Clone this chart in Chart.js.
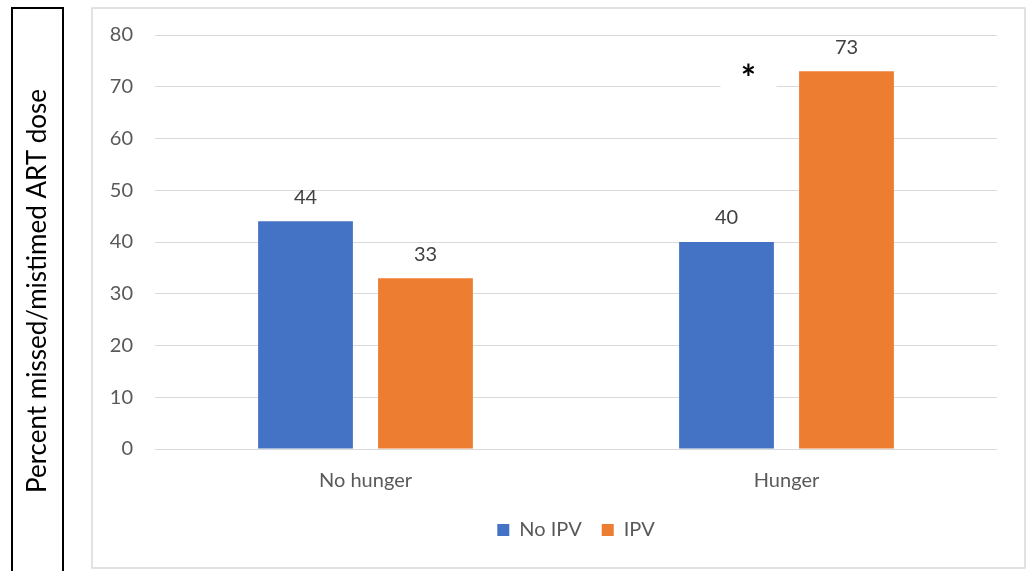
<!DOCTYPE html>
<html>
<head>
<meta charset="utf-8">
<script src="https://cdn.jsdelivr.net/npm/chart.js@4/dist/chart.umd.min.js"></script>
<style>
  html, body { margin: 0; padding: 0; background: #ffffff; }
  #wrap { width: 1029px; height: 571px; position: relative; }
</style>
</head>
<body>
<div id="wrap"><canvas id="c" width="1029" height="571"></canvas></div>
<script>
// Chart data
const categories = ['No hunger', 'Hunger'];
const seriesNames = ['No IPV', 'IPV'];
const noIpvValues = [44, 40];
const ipvValues = [33, 73];
const significanceMarks = ['', '*'];
const yTickMin = 0;
const yTickMax = 80;
const yTickStep = 10;
const yTitle = 'Percent missed/mistimed ART dose';

const FONT = "Lato, 'Open Sans', sans-serif";
const BLUE = '#4472C4';
const ORANGE = '#ED7D31';

// Frames: black box holding the axis title, light grey border around the chart
const framePlugin = {
  id: 'frames',
  beforeDraw(chart) {
    const ctx = chart.ctx;
    ctx.save();
    ctx.fillStyle = '#ffffff';
    ctx.fillRect(0, 0, chart.width, chart.height);
    ctx.strokeStyle = '#d9d9d9';
    ctx.lineWidth = 1.5;
    ctx.strokeRect(92, 8, 933, 560);
    ctx.strokeStyle = '#000000';
    ctx.lineWidth = 2;
    ctx.strokeRect(12, 8, 51, 580);
    ctx.restore();
  },
  afterDraw(chart) {
    // rotated y-axis title inside the black box
    const ctx = chart.ctx;
    ctx.save();
    ctx.translate(38, 291);
    ctx.rotate(-Math.PI / 2);
    ctx.font = '26px ' + FONT;
    ctx.fillStyle = '#000000';
    ctx.textAlign = 'center';
    ctx.textBaseline = 'middle';
    ctx.fillText(yTitle, 0, 0);
    ctx.restore();
  }
};

// Value labels above bars and significance marker
const labelPlugin = {
  id: 'valueLabels',
  afterDatasetsDraw(chart) {
    const ctx = chart.ctx;
    const yScale = chart.scales.y;
    ctx.save();
    ctx.font = '20px ' + FONT;
    ctx.fillStyle = '#404040';
    ctx.textAlign = 'center';
    ctx.textBaseline = 'middle';
    chart.data.datasets.forEach((ds, di) => {
      const meta = chart.getDatasetMeta(di);
      meta.data.forEach((bar, i) => {
        ctx.fillText(String(ds.data[i]), bar.x, bar.y - 24);
      });
    });
    // significance marker between the two bars of a category
    const m0 = chart.getDatasetMeta(0);
    significanceMarks.forEach((mark, i) => {
      if (!mark) return;
      const x = m0.data[i].x + 22;
      const yLine = yScale.getPixelForValue(70);
      ctx.fillStyle = '#ffffff';
      ctx.fillRect(x - 28, yLine - 26, 56, 28);
      ctx.fillStyle = '#000000';
      ctx.font = 'bold 36px ' + FONT;
      ctx.textBaseline = 'alphabetic';
      ctx.fillText(mark, x, yLine + 4);
    });
    ctx.restore();
  }
};

new Chart(document.getElementById('c'), {
  type: 'bar',
  data: {
    labels: categories,
    datasets: [
      { label: seriesNames[0], data: noIpvValues, backgroundColor: BLUE },
      { label: seriesNames[1], data: ipvValues, backgroundColor: ORANGE }
    ]
  },
  options: {
    responsive: false,
    devicePixelRatio: 1,
    animation: false,
    datasets: { bar: { categoryPercentage: 0.57, barPercentage: 0.79 } },
    layout: { padding: { left: 12, right: 32, top: 35, bottom: 21 } },
    plugins: {
      legend: {
        position: 'bottom',
        fullSize: false,
        labels: {
          boxWidth: 12, boxHeight: 12, padding: 20,
          color: '#595959',
          font: { family: FONT, size: 20 }
        }
      },
      tooltip: { enabled: false }
    },
    scales: {
      x: {
        grid: { display: false },
        border: { display: false },
        ticks: { color: '#595959', padding: 12, font: { family: FONT, size: 20 } },
        afterFit(s) { s.height = 51; }
      },
      y: {
        min: yTickMin,
        max: yTickMax,
        ticks: { stepSize: yTickStep, color: '#595959', padding: 22, font: { family: FONT, size: 20 } },
        grid: { color: '#d9d9d9', drawTicks: false },
        border: { display: false },
        afterFit(s) { s.width = 143; }
      }
    }
  },
  plugins: [framePlugin, labelPlugin]
});
</script>
</body>
</html>
